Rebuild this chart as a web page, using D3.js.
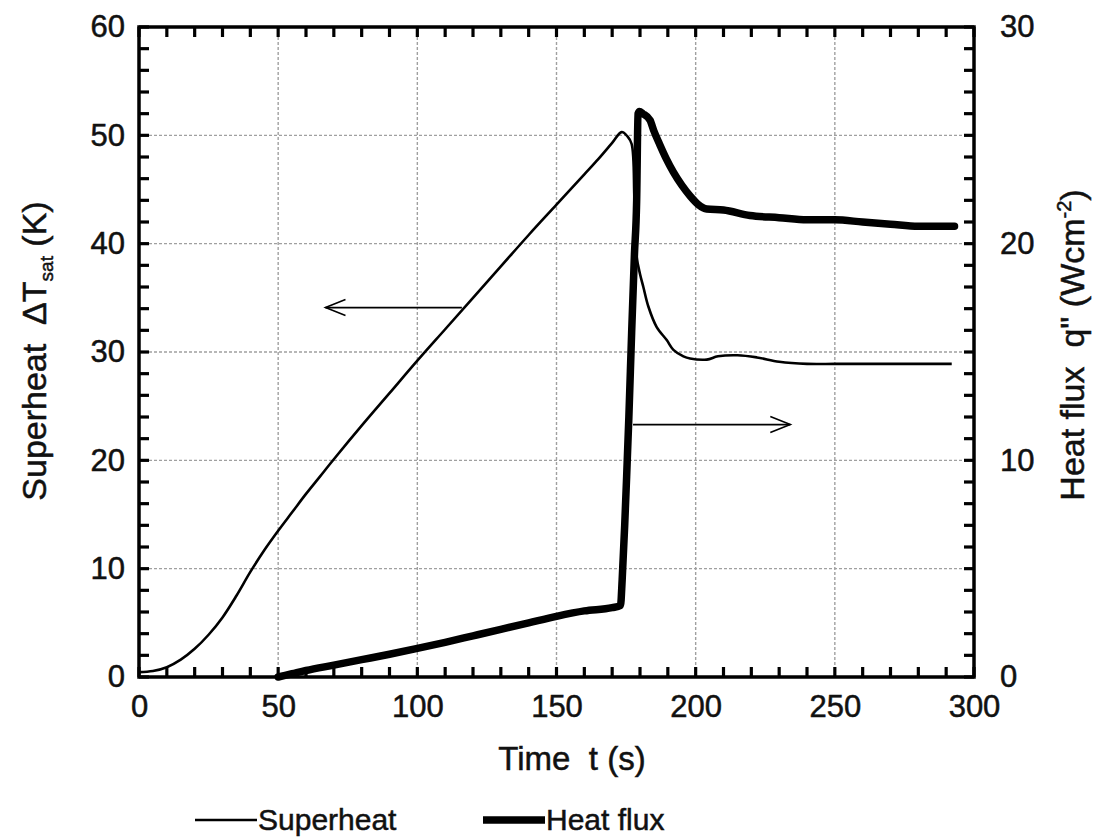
<!DOCTYPE html>
<html>
<head>
<meta charset="utf-8">
<script src="https://cdn.jsdelivr.net/npm/d3@7"></script>
<style>
  html, body { margin: 0; padding: 0; background: #fff; }
  svg text { font-family: "Liberation Sans", Arial, Helvetica, sans-serif; fill: #111; stroke: #111; stroke-width: 0.5px; }
</style>
</head>
<body>
<svg id="chart" width="1095" height="839"></svg>
<script>
// Superheat (left axis, K) against time (s)
const superheatTime = [0, 5, 10, 15, 20, 25, 30, 35, 40, 45, 50, 55, 60, 65, 70, 80, 90, 100, 110, 120, 130, 140, 150, 160, 165, 170, 173.4, 175.5, 177, 178, 178.8, 180, 181.2, 183, 186, 189.6, 192, 195.6, 198, 204, 208, 215, 222, 230, 240, 250, 260, 270, 280, 292];
const superheatValue = [0.45, 0.55, 0.9, 1.6, 2.6, 3.9, 5.5, 7.5, 9.7, 11.7, 13.5, 15.2, 16.9, 18.5, 20.1, 23.2, 26.2, 29.2, 32.1, 35, 37.9, 40.8, 43.6, 46.4, 47.8, 49.3, 50.3, 49.9, 49.2, 44, 38.8, 37.2, 36, 34.2, 32.3, 31.1, 30.2, 29.6, 29.4, 29.3, 29.6, 29.7, 29.5, 29.1, 28.9, 28.9, 28.9, 28.9, 28.9, 28.9];

// Heat flux (right axis, W/cm2) against time (s)
const fluxTime = [50, 55, 60, 70, 80, 90, 100, 110, 120, 130, 140, 150, 160, 170, 173, 173.6, 174.5, 175.2, 176, 177, 178, 178.8, 179.3, 179.8, 181, 183.6, 185, 187, 189.5, 192, 195, 198, 201, 204, 210, 219.5, 230, 240, 250, 260, 270, 280, 290, 293];
const fluxValue = [0, 0.15, 0.3, 0.55, 0.8, 1.05, 1.32, 1.6, 1.9, 2.2, 2.5, 2.8, 3.05, 3.2, 3.3, 4.5, 7, 9.25, 12, 15.9, 19.5, 22, 26, 26.1, 26, 25.7, 25.2, 24.6, 23.9, 23.3, 22.7, 22.2, 21.8, 21.6, 21.55, 21.3, 21.2, 21.1, 21.1, 21.0, 20.9, 20.8, 20.8, 20.8];

// Axis ticks
const xTicks = [0, 50, 100, 150, 200, 250, 300];
const leftTicks = [0, 10, 20, 30, 40, 50, 60];
const rightTicks = [0, 10, 20, 30];

// Direction arrows: [t start, t tip, superheat level]
const arrowLeft = [116, 67, 34.1];
const arrowRight = [177.5, 234, 23.3];

const svg = d3.select("#chart");
const L = 139, R = 974, T = 27, B = 677;

const x = d3.scaleLinear().domain([0, 300]).range([L, R]);
const yL = d3.scaleLinear().domain([0, 60]).range([B, T]);
const yR = d3.scaleLinear().domain([0, 30]).range([B, T]);

// grid
const grid = svg.append("g").attr("stroke", "#a0a0a0").attr("stroke-width", 1.4).attr("stroke-dasharray", "3,2");
grid.selectAll("line.vx").data(xTicks.slice(1, -1)).join("line")
  .attr("x1", d => x(d)).attr("x2", d => x(d)).attr("y1", T).attr("y2", B);
grid.selectAll("line.hy").data(leftTicks.slice(1, -1)).join("line")
  .attr("x1", L).attr("x2", R).attr("y1", d => yL(d)).attr("y2", d => yL(d));

// inward ticks on all four sides
const tickLen = 10;
const tk = svg.append("g").attr("stroke", "#000").attr("stroke-width", 3.2);
const xMinor = d3.range(0, 301, 10);
const yMinor = d3.range(0, 61, 2);
tk.selectAll("line.b").data(xMinor).join("line")
  .attr("x1", d => x(d)).attr("x2", d => x(d)).attr("y1", B).attr("y2", B - tickLen);
tk.selectAll("line.t").data(xMinor).join("line")
  .attr("x1", d => x(d)).attr("x2", d => x(d)).attr("y1", T).attr("y2", T + tickLen);
tk.selectAll("line.l").data(yMinor).join("line")
  .attr("x1", L).attr("x2", L + tickLen).attr("y1", d => yL(d)).attr("y2", d => yL(d));
tk.selectAll("line.r").data(yMinor).join("line")
  .attr("x1", R).attr("x2", R - tickLen).attr("y1", d => yL(d)).attr("y2", d => yL(d));

// frame
svg.append("rect").attr("x", L).attr("y", T).attr("width", R - L).attr("height", B - T)
  .attr("fill", "none").attr("stroke", "#000").attr("stroke-width", 3.5);

// tick labels via d3 axes (tick marks drawn above)
const fs = 31;
const xAxis = svg.append("g").attr("transform", `translate(0,${B})`)
  .call(d3.axisBottom(x).tickValues(xTicks).tickSize(0).tickPadding(20));
const lAxis = svg.append("g").attr("transform", `translate(${L},0)`)
  .call(d3.axisLeft(yL).tickValues(leftTicks).tickSize(0).tickPadding(14));
const rAxis = svg.append("g").attr("transform", `translate(${R},0)`)
  .call(d3.axisRight(yR).tickValues(rightTicks).tickSize(0).tickPadding(26));
[xAxis, lAxis, rAxis].forEach(g => {
  g.select(".domain").remove();
  g.selectAll("text").attr("font-size", fs).attr("font-family", "Liberation Sans, Arial, sans-serif").attr("fill", "#111");
});
xAxis.selectAll("text").attr("dy", "0.66em");

// curves
const lineR = d3.line().x(d => x(d[0])).y(d => yR(d[1])).curve(d3.curveMonotoneX);

svg.append("path").datum(fluxTime.map((t, i) => [t, fluxValue[i]]))
  .attr("d", lineR).attr("fill", "none").attr("stroke", "#000")
  .attr("stroke-width", 7.5).attr("stroke-linejoin", "round").attr("stroke-linecap", "round");

svg.append("path").datum(superheatTime.map((t, i) => [t, superheatValue[i]]))
  .attr("d", d3.line().x(d => x(d[0])).y(d => yL(d[1])).curve(d3.curveCatmullRom.alpha(0.5)))
  .attr("fill", "none").attr("stroke", "#000")
  .attr("stroke-width", 2.6).attr("stroke-linejoin", "round");

// arrows
function arrow(a) {
  const x0 = x(a[0]), x1 = x(a[1]), y0 = yL(a[2]);
  const dir = Math.sign(x1 - x0);
  const g = svg.append("g").attr("stroke", "#000").attr("stroke-width", 1.6).attr("fill", "none");
  g.append("line").attr("x1", x0).attr("x2", x1).attr("y1", y0).attr("y2", y0);
  g.append("path").attr("d", `M${x1 - dir * 20},${y0 - 8} L${x1},${y0} L${x1 - dir * 20},${y0 + 8}`);
}
arrow(arrowLeft);
arrow(arrowRight);

// axis titles
svg.append("text").attr("x", 572).attr("y", 770).attr("text-anchor", "middle")
  .attr("font-size", 33).attr("xml:space", "preserve").text("Time  t (s)");

const lt = svg.append("text").attr("transform", "translate(46,351) rotate(-90)")
  .attr("text-anchor", "middle").attr("font-size", 34).attr("xml:space", "preserve");
lt.append("tspan").text("Superheat  \u0394T");
lt.append("tspan").attr("font-size", 19).attr("dy", 7).text("sat");
lt.append("tspan").attr("dy", -7).text(" (K)");

const rt = svg.append("text").attr("transform", "translate(1084,345) rotate(-90)")
  .attr("text-anchor", "middle").attr("font-size", 34).attr("xml:space", "preserve");
rt.append("tspan").text("Heat flux  q\" (Wcm");
rt.append("tspan").attr("font-size", 20).attr("dy", -13).text("-2");
rt.append("tspan").attr("dy", 13).text(")");

// legend
const lg = svg.append("g");
lg.append("line").attr("x1", 195).attr("x2", 257).attr("y1", 820).attr("y2", 820)
  .attr("stroke", "#000").attr("stroke-width", 2.6);
lg.append("text").attr("x", 258).attr("y", 830).attr("font-size", 30).text("Superheat");
lg.append("line").attr("x1", 483).attr("x2", 545).attr("y1", 820).attr("y2", 820)
  .attr("stroke", "#000").attr("stroke-width", 7.5);
lg.append("text").attr("x", 546).attr("y", 830).attr("font-size", 30).text("Heat flux");
</script>
</body>
</html>
